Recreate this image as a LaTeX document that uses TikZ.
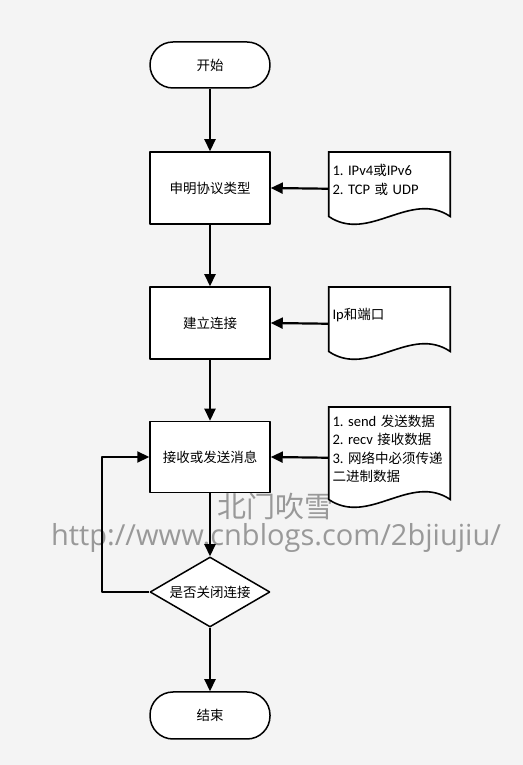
\documentclass[tikz,border=0pt]{standalone}
\usepackage{fontspec}
\setmainfont{Noto Sans CJK SC}
\newfontfamily\urlfont{Open Sans}
\newfontfamily\lat[Scale=1.08]{Carlito}
\frenchspacing
\usetikzlibrary{arrows.meta,shapes.geometric}
\pgfdeclarelayer{canvas}
\pgfdeclarelayer{background}
\pgfsetlayers{canvas,background,main}
\definecolor{bgcol}{rgb}{0.955,0.955,0.955}
\definecolor{markcol}{rgb}{0.6,0.6,0.6}
% outline of a document note, drawn under its text node
\newcommand\docwave[1]{%
  \begin{pgfonlayer}{background}
  \draw [docline] (#1.north west) -- (#1.north east) -- ([yshift=-9bp]#1.south east)
    .. controls ([xshift=-40bp,yshift=18bp]#1.south east) and ([xshift=40bp,yshift=-36bp]#1.south west)
    .. ([yshift=-9bp]#1.south west) -- cycle;
  \end{pgfonlayer}}
\begin{document}
\begin{tikzpicture}[>={Triangle[length=12bp,width=11bp]},line join=bevel,
  every node/.style={font=\fontsize{13.5bp}{18.5bp}\selectfont,line width=1.5bp},
  terminal/.style={draw,fill=white,rounded corners=23bp,minimum width=120bp,minimum height=46bp},
  process/.style={draw,fill=white,minimum width=120bp,minimum height=72bp},
  decision/.style={draw,fill=white,diamond,aspect=1.7,inner sep=0pt,minimum width=120bp,minimum height=70bp},
  docnote/.style={anchor=north,minimum width=120bp,minimum height=54bp,inner xsep=3bp,text width=114bp,align=left},
  docline/.style={draw,fill=white,line width=1.6bp},
  link/.style={->,line width=2.2bp},
  watermark/.style={text=markcol}]
%%
\begin{pgfonlayer}{canvas}
  \fill [bgcol] (0bp,0bp) rectangle (523bp,765bp);
  \node [watermark,font=\fontsize{29bp}{29bp}\selectfont] (blogger) at (275.5bp,258.5bp) {北门吹雪};
  \node [watermark,font=\urlfont\fontsize{29bp}{29bp}\selectfont] (url) at (276bp,227bp) {http://www.cnblogs.com/2bjiujiu/};
\end{pgfonlayer}
\useasboundingbox (0bp,0bp) rectangle (523bp,765bp);
  % Node: start
  \node [terminal] (start) at (210bp,700bp) {开始};
  % Node: declare
  \node [process] (declare) at (210bp,577bp) {申明协议类型};
  % Node: connect
  \node [process] (connect) at (210bp,442bp) {建立连接};
  % Node: recv
  \node [process,minimum height=71bp] (recv) at (210bp,308bp) {接收或发送消息};
  % Node: close
  \node [decision] (close) at (210bp,173bp) {是否关闭连接};
  % Node: finish
  \node [terminal,minimum height=47bp] (finish) at (210bp,49.5bp) {结束};
  % Node: protocol
  \node [docnote] (protocol) at (389.5bp,613bp) {{\lat 1. IPv4}或{\lat IPv6}\\{\lat 2. TCP }或{\lat\ UDP}};
  \docwave{protocol}
  % Node: addr
  \node [docnote] (addr) at (389.5bp,478bp) {{\lat Ip}和端口};
  \docwave{addr}
  % Node: data
  \node [docnote,minimum height=82bp] (data) at (389.5bp,358bp) {{\lat 1. send }发送数据\\{\lat 2. recv }接收数据\\{\lat 3. }网络中必须传递\\二进制数据};
  \docwave{data}
  \coordinate (loop) at (102bp,173bp);
  % Edge: start -> declare
  \draw [link] (start) -- (declare);
  % Edge: declare -> connect
  \draw [link] (declare) -- (connect);
  % Edge: connect -> recv
  \draw [link] (connect) -- (recv);
  % Edge: recv -> close
  \draw [link] (recv) -- (close);
  % Edge: close -> finish
  \draw [link] (close) -- (finish);
  % Edge: close -> recv
  \draw [link] (close.west) -- (loop) |- (recv.west);
  % Edge: protocol -> declare
  \draw [link] ([yshift=-9bp]protocol.west) -- (declare.east);
  % Edge: addr -> connect
  \draw [link] ([yshift=-9bp]addr.west) -- (connect.east);
  % Edge: data -> recv
  \draw [link] ([yshift=-9bp]data.west) -- (recv.east);
%
\end{tikzpicture}
\end{document}
